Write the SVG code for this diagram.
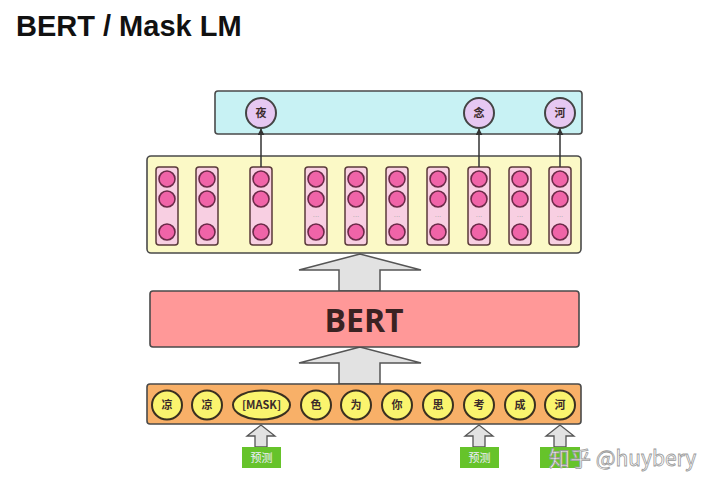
<svg xmlns="http://www.w3.org/2000/svg" width="720" height="493" viewBox="0 0 720 493">
<style>
.title{font-family:"Liberation Sans",Arial,sans-serif;font-weight:bold;font-size:29px;fill:#111}
.box{stroke:#4a4a4a;stroke-width:1.6}
.col{fill:#f8cfe2;stroke:#5a3a3a;stroke-width:1.5}
.dot{fill:#f064a8;stroke:#6b2a48;stroke-width:1.6}
.ell{fill:#e6c8f2;stroke:#444;stroke-width:2}
.tok{fill:#faf46e;stroke:#3a3020;stroke-width:2}
.cjk{font-family:"Noto Sans CJK SC","Noto Sans",sans-serif;font-weight:bold;font-size:11px;fill:#3a2a2a;text-anchor:middle}
.dots{font-family:"Liberation Sans",sans-serif;font-size:8px;fill:#aaa;text-anchor:middle}
.big{fill:#e2e2e2;stroke:#555;stroke-width:1.5}
.sm{fill:#e2e2e2;stroke:#555;stroke-width:1.3}
.lbl{fill:#66c32a}
.lbt{font-family:"Noto Sans CJK SC",sans-serif;font-size:11px;fill:#eef;text-anchor:middle}
.conn{stroke:#333;stroke-width:1.5;fill:none}
.wm{font-family:"Noto Sans CJK SC","Liberation Sans",sans-serif;font-size:21px;fill:#fff;stroke:#9a9a9a;stroke-width:0.8}
</style>
<defs>
<marker id="ah" viewBox="0 0 10 10" refX="9" refY="5" markerWidth="7" markerHeight="7" markerUnits="userSpaceOnUse" orient="auto">
<path d="M0,0 L10,5 L0,10 z" fill="#333"/>
</marker>
</defs>
<rect width="720" height="493" fill="#fff"/>
<text class="title" x="16" y="36">BERT / Mask LM</text>

<g id="arrows-big">
<polygon class="big" points="360,254 299,270 339,270 339,291 380,291 380,270 421,270"/>
<polygon class="big" points="360,347 299,363 339,363 339,384 380,384 380,363 421,363"/>
</g>

<g id="output-layer">
<rect class="box" x="215" y="91" width="367" height="43" rx="3" fill="#c8f2f4"/>
<g id="out-ye"><circle class="ell" cx="261" cy="113" r="15"/><text class="cjk" x="261" y="117">夜</text></g>
<g id="out-nian"><circle class="ell" cx="479" cy="113" r="15"/><text class="cjk" x="479" y="117">念</text></g>
<g id="out-he"><circle class="ell" cx="560" cy="113" r="15"/><text class="cjk" x="560" y="117">河</text></g>
</g>

<g id="hidden-layer">
<rect class="box" x="147" y="156" width="434" height="97" rx="4" fill="#fbf9c6"/>
<g id="h1"><rect class="col" x="156" y="167" width="22" height="78" rx="3"/><circle class="dot" cx="167" cy="179" r="8"/><circle class="dot" cx="167" cy="199" r="8"/><circle class="dot" cx="167" cy="232" r="8"/></g>
<g id="h2"><rect class="col" x="196" y="167" width="22" height="78" rx="3"/><circle class="dot" cx="207" cy="179" r="8"/><circle class="dot" cx="207" cy="199" r="8"/><circle class="dot" cx="207" cy="232" r="8"/></g>
<g id="h3"><rect class="col" x="250" y="167" width="22" height="78" rx="3"/><circle class="dot" cx="261" cy="179" r="8"/><circle class="dot" cx="261" cy="199" r="8"/><circle class="dot" cx="261" cy="232" r="8"/></g>
<g id="h4"><rect class="col" x="305" y="167" width="22" height="78" rx="3"/><circle class="dot" cx="316" cy="179" r="8"/><circle class="dot" cx="316" cy="199" r="8"/><circle class="dot" cx="316" cy="232" r="8"/><text class="dots" x="316" y="217">...</text></g>
<g id="h5"><rect class="col" x="345" y="167" width="22" height="78" rx="3"/><circle class="dot" cx="356" cy="179" r="8"/><circle class="dot" cx="356" cy="199" r="8"/><circle class="dot" cx="356" cy="232" r="8"/><text class="dots" x="356" y="217">...</text></g>
<g id="h6"><rect class="col" x="386" y="167" width="22" height="78" rx="3"/><circle class="dot" cx="397" cy="179" r="8"/><circle class="dot" cx="397" cy="199" r="8"/><circle class="dot" cx="397" cy="232" r="8"/><text class="dots" x="397" y="217">...</text></g>
<g id="h7"><rect class="col" x="427" y="167" width="22" height="78" rx="3"/><circle class="dot" cx="438" cy="179" r="8"/><circle class="dot" cx="438" cy="199" r="8"/><circle class="dot" cx="438" cy="232" r="8"/><text class="dots" x="438" y="217">...</text></g>
<g id="h8"><rect class="col" x="468" y="167" width="22" height="78" rx="3"/><circle class="dot" cx="479" cy="179" r="8"/><circle class="dot" cx="479" cy="199" r="8"/><circle class="dot" cx="479" cy="232" r="8"/><text class="dots" x="479" y="217">...</text></g>
<g id="h9"><rect class="col" x="509" y="167" width="22" height="78" rx="3"/><circle class="dot" cx="520" cy="179" r="8"/><circle class="dot" cx="520" cy="199" r="8"/><circle class="dot" cx="520" cy="232" r="8"/><text class="dots" x="520" y="217">...</text></g>
<g id="h10"><rect class="col" x="549" y="167" width="22" height="78" rx="3"/><circle class="dot" cx="560" cy="179" r="8"/><circle class="dot" cx="560" cy="199" r="8"/><circle class="dot" cx="560" cy="232" r="8"/><text class="dots" x="560" y="217">...</text></g>
</g>

<g id="connectors">
<line class="conn" x1="261" y1="167" x2="261" y2="129" marker-end="url(#ah)"/>
<line class="conn" x1="479" y1="167" x2="479" y2="129" marker-end="url(#ah)"/>
<line class="conn" x1="560" y1="167" x2="560" y2="129" marker-end="url(#ah)"/>
</g>

<g id="bert">
<rect class="box" x="150" y="291" width="429" height="56" rx="3" fill="#ff9898"/>
<text x="364" y="332" text-anchor="middle" font-family="'Open Sans','Noto Sans',sans-serif" font-weight="bold" font-size="32" fill="#3a2222">BERT</text>
</g>

<g id="input-layer">
<rect class="box" x="147" y="384" width="434" height="40" rx="3" fill="#f8b068"/>
<g id="t1"><ellipse class="tok" cx="167" cy="405" rx="15" ry="14.5"/><text class="cjk" x="167" y="409">凉</text></g>
<g id="t2"><ellipse class="tok" cx="207" cy="405" rx="15" ry="14.5"/><text class="cjk" x="207" y="409">凉</text></g>
<g id="t3"><ellipse class="tok" cx="261.5" cy="405" rx="28.5" ry="14.5"/><text class="cjk" x="261.5" y="409" font-size="10">[MASK]</text></g>
<g id="t4"><ellipse class="tok" cx="316" cy="405" rx="15" ry="14.5"/><text class="cjk" x="316" y="409">色</text></g>
<g id="t5"><ellipse class="tok" cx="356" cy="405" rx="15" ry="14.5"/><text class="cjk" x="356" y="409">为</text></g>
<g id="t6"><ellipse class="tok" cx="397" cy="405" rx="15" ry="14.5"/><text class="cjk" x="397" y="409">你</text></g>
<g id="t7"><ellipse class="tok" cx="438" cy="405" rx="15" ry="14.5"/><text class="cjk" x="438" y="409">思</text></g>
<g id="t8"><ellipse class="tok" cx="479" cy="405" rx="15" ry="14.5"/><text class="cjk" x="479" y="409">考</text></g>
<g id="t9"><ellipse class="tok" cx="520" cy="405" rx="15" ry="14.5"/><text class="cjk" x="520" y="409">成</text></g>
<g id="t10"><ellipse class="tok" cx="560" cy="405" rx="15" ry="14.5"/><text class="cjk" x="560" y="409">河</text></g>
</g>

<g id="predict-1">
<polygon class="sm" points="261,425 247,436 255,436 255,447 267,447 267,436 275,436"/>
<rect class="lbl" x="242" y="447" width="39" height="21"/>
<text class="lbt" x="261.5" y="462">预测</text>
</g>
<g id="predict-2">
<polygon class="sm" points="479,425 465,436 473,436 473,447 485,447 485,436 493,436"/>
<rect class="lbl" x="460" y="447" width="39" height="21"/>
<text class="lbt" x="479.5" y="462">预测</text>
</g>
<g id="predict-3">
<polygon class="sm" points="560,425 546,436 554,436 554,447 566,447 566,436 574,436"/>
<rect class="lbl" x="540" y="447" width="40" height="21"/>
</g>

<text class="wm" x="549" y="466">知乎 @huybery</text>
</svg>
